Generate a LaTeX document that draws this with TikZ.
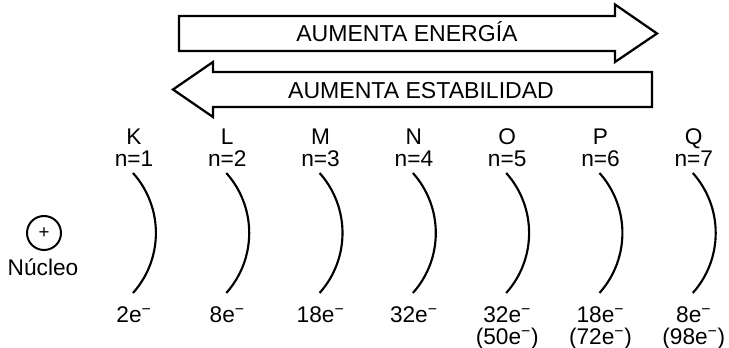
\documentclass[tikz,border=0pt]{standalone}
\usepackage{fontspec}
\setmainfont{Liberation Sans}
\tikzset{every picture/.style={line width=0.75pt}}
\tikzset{
	lbl/.style={inner sep=0pt, anchor=base, font=\fontsize{17}{17}\selectfont},
	flecha/.style={line width=1.7pt, line join=miter},
	capa/.style={line width=1.6pt}}

\begin{document}
\begin{tikzpicture}[x=0.75pt,y=0.75pt,yscale=-1,xscale=1]
	\useasboundingbox (0,0) rectangle (729,348);
	
	%Right Arrow
	\draw [flecha] (179,16) -- (615,16) -- (615,4.5) -- (657,33.5) -- (615,62) -- (615,51) -- (179,51) -- cycle ;
	%Left Arrow
	\draw [flecha] (652,72) -- (213,72) -- (213,62) -- (173,89.5) -- (213,117) -- (213,107) -- (652,107) -- cycle ;
	
	% Text Node
	\node [lbl, font=\fontsize{17.3}{17}\selectfont] (energia) at (407,42) {AUMENTA ENERGÍA};
	% Text Node
	\node [lbl, font=\fontsize{17.3}{17}\selectfont] (estabilidad) at (421,99) {AUMENTA ESTABILIDAD};
	
	%Nucleus
	\node [draw, circle, line width=1.5pt, minimum size=25.5pt, inner sep=0pt, font=\fontsize{14}{14}\selectfont] (nucleo) at (44,233) {+};
	% Text Node
	\node [lbl] (nucleolbl) at (43,276) {Núcleo};
	
	%Shells
	\foreach \i/\l/\cnt in {1/K/2,2/L/8,3/M/18,4/N/32,5/O/32,6/P/18,7/Q/8}{
		\pgfmathsetmacro{\xc}{134+93.3*(\i-1)}
		\node [lbl] (letra\i) at (\xc,145) {\l};
		\node [lbl] (nivel\i) at (\xc,167) {n=\i};
		\coordinate (ini\i) at (\xc-1,173);
		\draw [capa] (ini\i) arc [start angle=-41.8, end angle=41.8, radius=90];
		\node [lbl] (elec\i) at (\xc,323) {\cnt e\textsuperscript{−}};
	}
	\foreach \i/\cnt in {5/50,6/72,7/98}{
		\pgfmathsetmacro{\xc}{134+93.3*(\i-1)}
		\node [lbl] (max\i) at (\xc,345) {(\cnt e\textsuperscript{−})};
	}
	
\end{tikzpicture}
\end{document}
